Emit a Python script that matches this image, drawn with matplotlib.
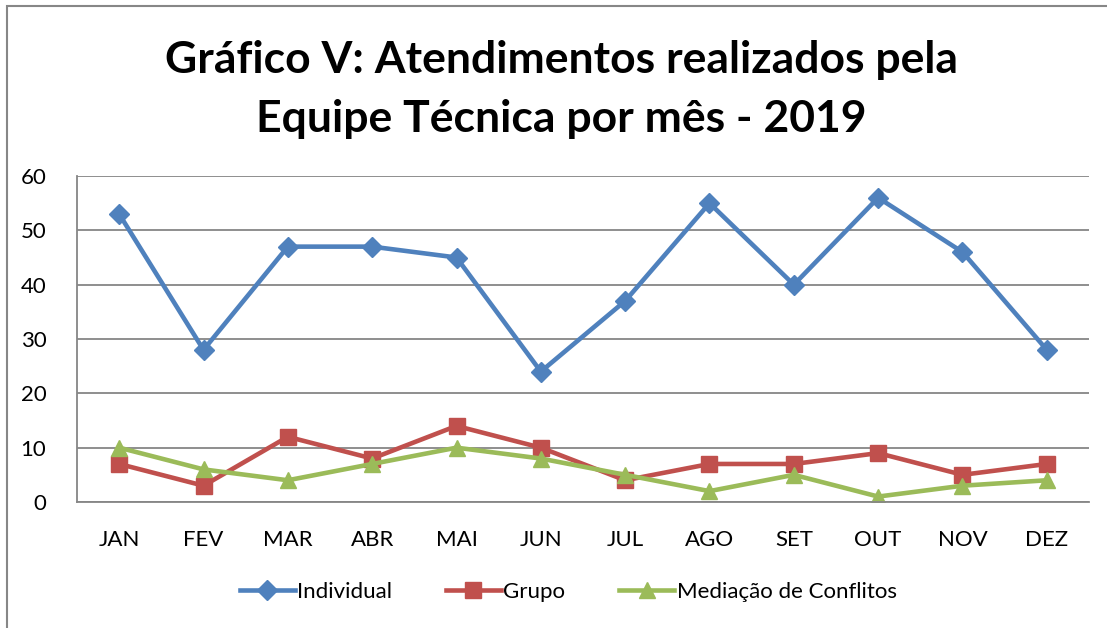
import matplotlib
matplotlib.use("Agg")
import matplotlib.pyplot as plt
from matplotlib.patches import Rectangle

months = ["JAN", "FEV", "MAR", "ABR", "MAI", "JUN", "JUL", "AGO", "SET", "OUT", "NOV", "DEZ"]
individual = [53, 28, 47, 47, 45, 24, 37, 55, 40, 56, 46, 28]
grupo = [7, 3, 12, 8, 14, 10, 4, 7, 7, 9, 5, 7]
mediacao = [10, 6, 4, 7, 10, 8, 5, 2, 5, 1, 3, 4]
y_ticks = [0, 10, 20, 30, 40, 50, 60]

plt.rcParams['font.family'] = ['Lato', 'DejaVu Sans']

fig = plt.figure(figsize=(11.07, 6.28), dpi=100)
W, H = 1107, 628

# chart border (only left and top edges visible in the reference)
fig.add_artist(Rectangle((7 / W, -0.1), 1.2, 1 - 6 / H + 0.1, transform=fig.transFigure,
                         fill=False, edgecolor='#878787', linewidth=1.5))

ax = fig.add_axes([77 / W, 1 - 502 / H, (1089 - 77) / W, (502 - 176) / H])
x = range(len(months))

ax.plot(x, individual, color='#4F81BD', lw=3.3, marker='D', ms=10, label='Individual')
ax.plot(x, grupo, color='#C0504D', lw=3.3, marker='s', ms=11, label='Grupo')
ax.plot(x, mediacao, color='#9BBB59', lw=3.3, marker='^', ms=12, label='Mediação de Conflitos')

ax.set_xlim(-0.5, len(months) - 0.5)
ax.set_ylim(0, 60)
ax.set_yticks(y_ticks)
ax.set_xticks(list(x))
ax.set_xticklabels(months)
ax.yaxis.grid(True, color='#868686', lw=1.3)
ax.set_axisbelow(True)
for s in ['top', 'right']:
    ax.spines[s].set_visible(False)
for s in ['left', 'bottom']:
    ax.spines[s].set_color('#868686')
    ax.spines[s].set_linewidth(1.3)
ax.tick_params(axis='both', length=0, labelsize=16)
ax.tick_params(axis='x', pad=20)
ax.tick_params(axis='y', pad=22)

fig.text(0.507, 1 - 60 / H, "Gráfico V: Atendimentos realizados pela", ha='center', va='center',
         fontsize=32, fontweight='bold')
fig.text(0.507, 1 - 119 / H, "Equipe Técnica por mês - 2019", ha='center', va='center',
         fontsize=32, fontweight='bold')

fig.legend(loc='center', bbox_to_anchor=(568 / W, 1 - 592 / H), ncol=3, frameon=False,
           fontsize=16, handlelength=2.5, handletextpad=0.1, columnspacing=2.4)

fig.savefig("out.png", dpi=100)
